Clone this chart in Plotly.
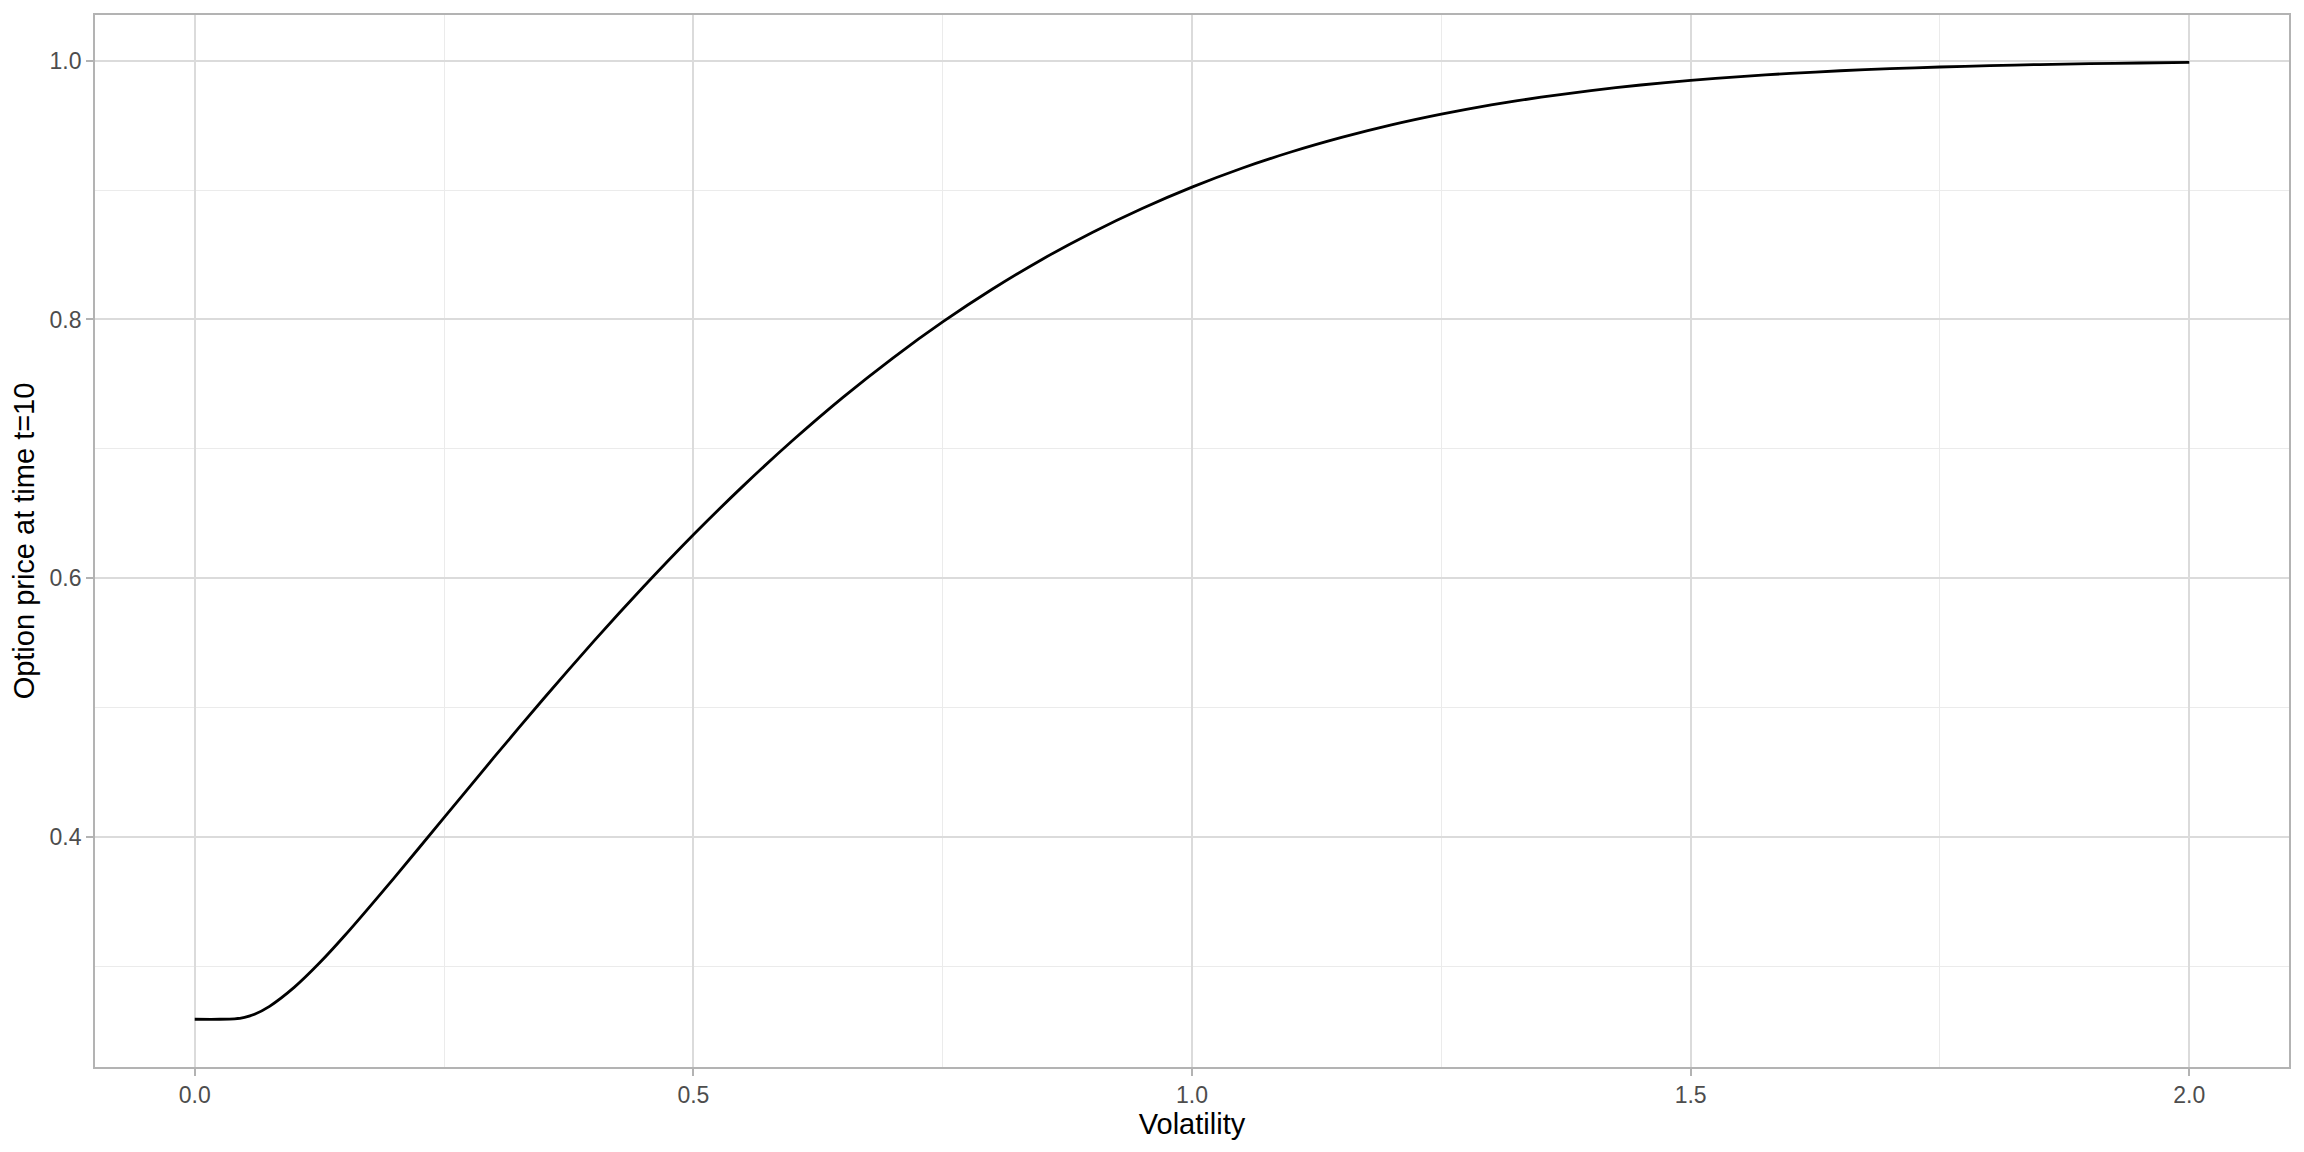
import plotly.graph_objects as go

# Volatility (x) and option price at t=10 (y)
volatility = [0.0, 0.025, 0.04, 0.05, 0.06, 0.075, 0.1, 0.125, 0.15, 0.2, 0.25, 0.3, 0.35, 0.4,
              0.45, 0.5, 0.55, 0.6, 0.65, 0.7, 0.75, 0.8, 0.85, 0.9, 0.95, 1.0, 1.05, 1.1,
              1.15, 1.2, 1.25, 1.3, 1.35, 1.4, 1.45, 1.5, 1.55, 1.6, 1.65, 1.7, 1.75, 1.8,
              1.85, 1.9, 1.95, 2.0]
price = [0.2592, 0.2592, 0.2595, 0.2607, 0.2631, 0.2692, 0.2840, 0.3026, 0.3235, 0.3685,
         0.4150, 0.4615, 0.5071, 0.5512, 0.5934, 0.6336, 0.6714, 0.7068, 0.7398, 0.7702,
         0.7981, 0.8235, 0.8466, 0.8673, 0.8858, 0.9023, 0.9169, 0.9296, 0.9407, 0.9504,
         0.9587, 0.9658, 0.9718, 0.9769, 0.9812, 0.9848, 0.9877, 0.9902, 0.9922, 0.9938,
         0.9951, 0.9962, 0.9970, 0.9977, 0.9982, 0.9987]

x_ticks = [0.0, 0.5, 1.0, 1.5, 2.0]
x_ticklabels = ["0.0", "0.5", "1.0", "1.5", "2.0"]
y_ticks = [0.4, 0.6, 0.8, 1.0]
y_ticklabels = ["0.4", "0.6", "0.8", "1.0"]

FONT = "Liberation Sans, Arial, sans-serif"

fig = go.Figure()
fig.add_trace(go.Scatter(
    x=volatility, y=price, mode="lines",
    line=dict(color="black", width=2.8, shape="spline", smoothing=0.6),
    showlegend=False, hoverinfo="skip",
))

axis_common = dict(
    showline=True, mirror=True, linecolor="#B3B3B3", linewidth=1.7,
    ticks="outside", ticklen=7, tickwidth=1.5, tickcolor="#B3B3B3",
    showgrid=True, gridcolor="#DBDBDB", gridwidth=1.8,
    zeroline=False,
    tickfont=dict(family=FONT, size=23, color="#4D4D4D"),
)

fig.update_xaxes(
    **axis_common,
    range=[-0.1, 2.1],
    tickvals=x_ticks, ticktext=x_ticklabels,
    minor=dict(showgrid=True, gridcolor="#EBEBEB", gridwidth=1.2, tickvals=[0.25, 0.75, 1.25, 1.75], ticks=""),
    title=dict(text="Volatility", font=dict(family=FONT, size=29, color="black"), standoff=5),
)
fig.update_yaxes(
    **axis_common,
    range=[0.2223, 1.0353],
    tickvals=y_ticks, ticktext=y_ticklabels,
    minor=dict(showgrid=True, gridcolor="#EBEBEB", gridwidth=1.2, tickvals=[0.3, 0.5, 0.7, 0.9], ticks=""),
    title=dict(text="Option price at time t=10", font=dict(family=FONT, size=29, color="black"), standoff=7),
)

# page body adds an 8px offset; shrink the figure so the plot lands where the reference's does
fig.update_layout(
    width=2296, height=1144,
    paper_bgcolor="white", plot_bgcolor="white",
    margin=dict(l=87, r=15, t=7, b=85, autoexpand=False),
    font=dict(family=FONT),
)

fig.write_html("out.html")
